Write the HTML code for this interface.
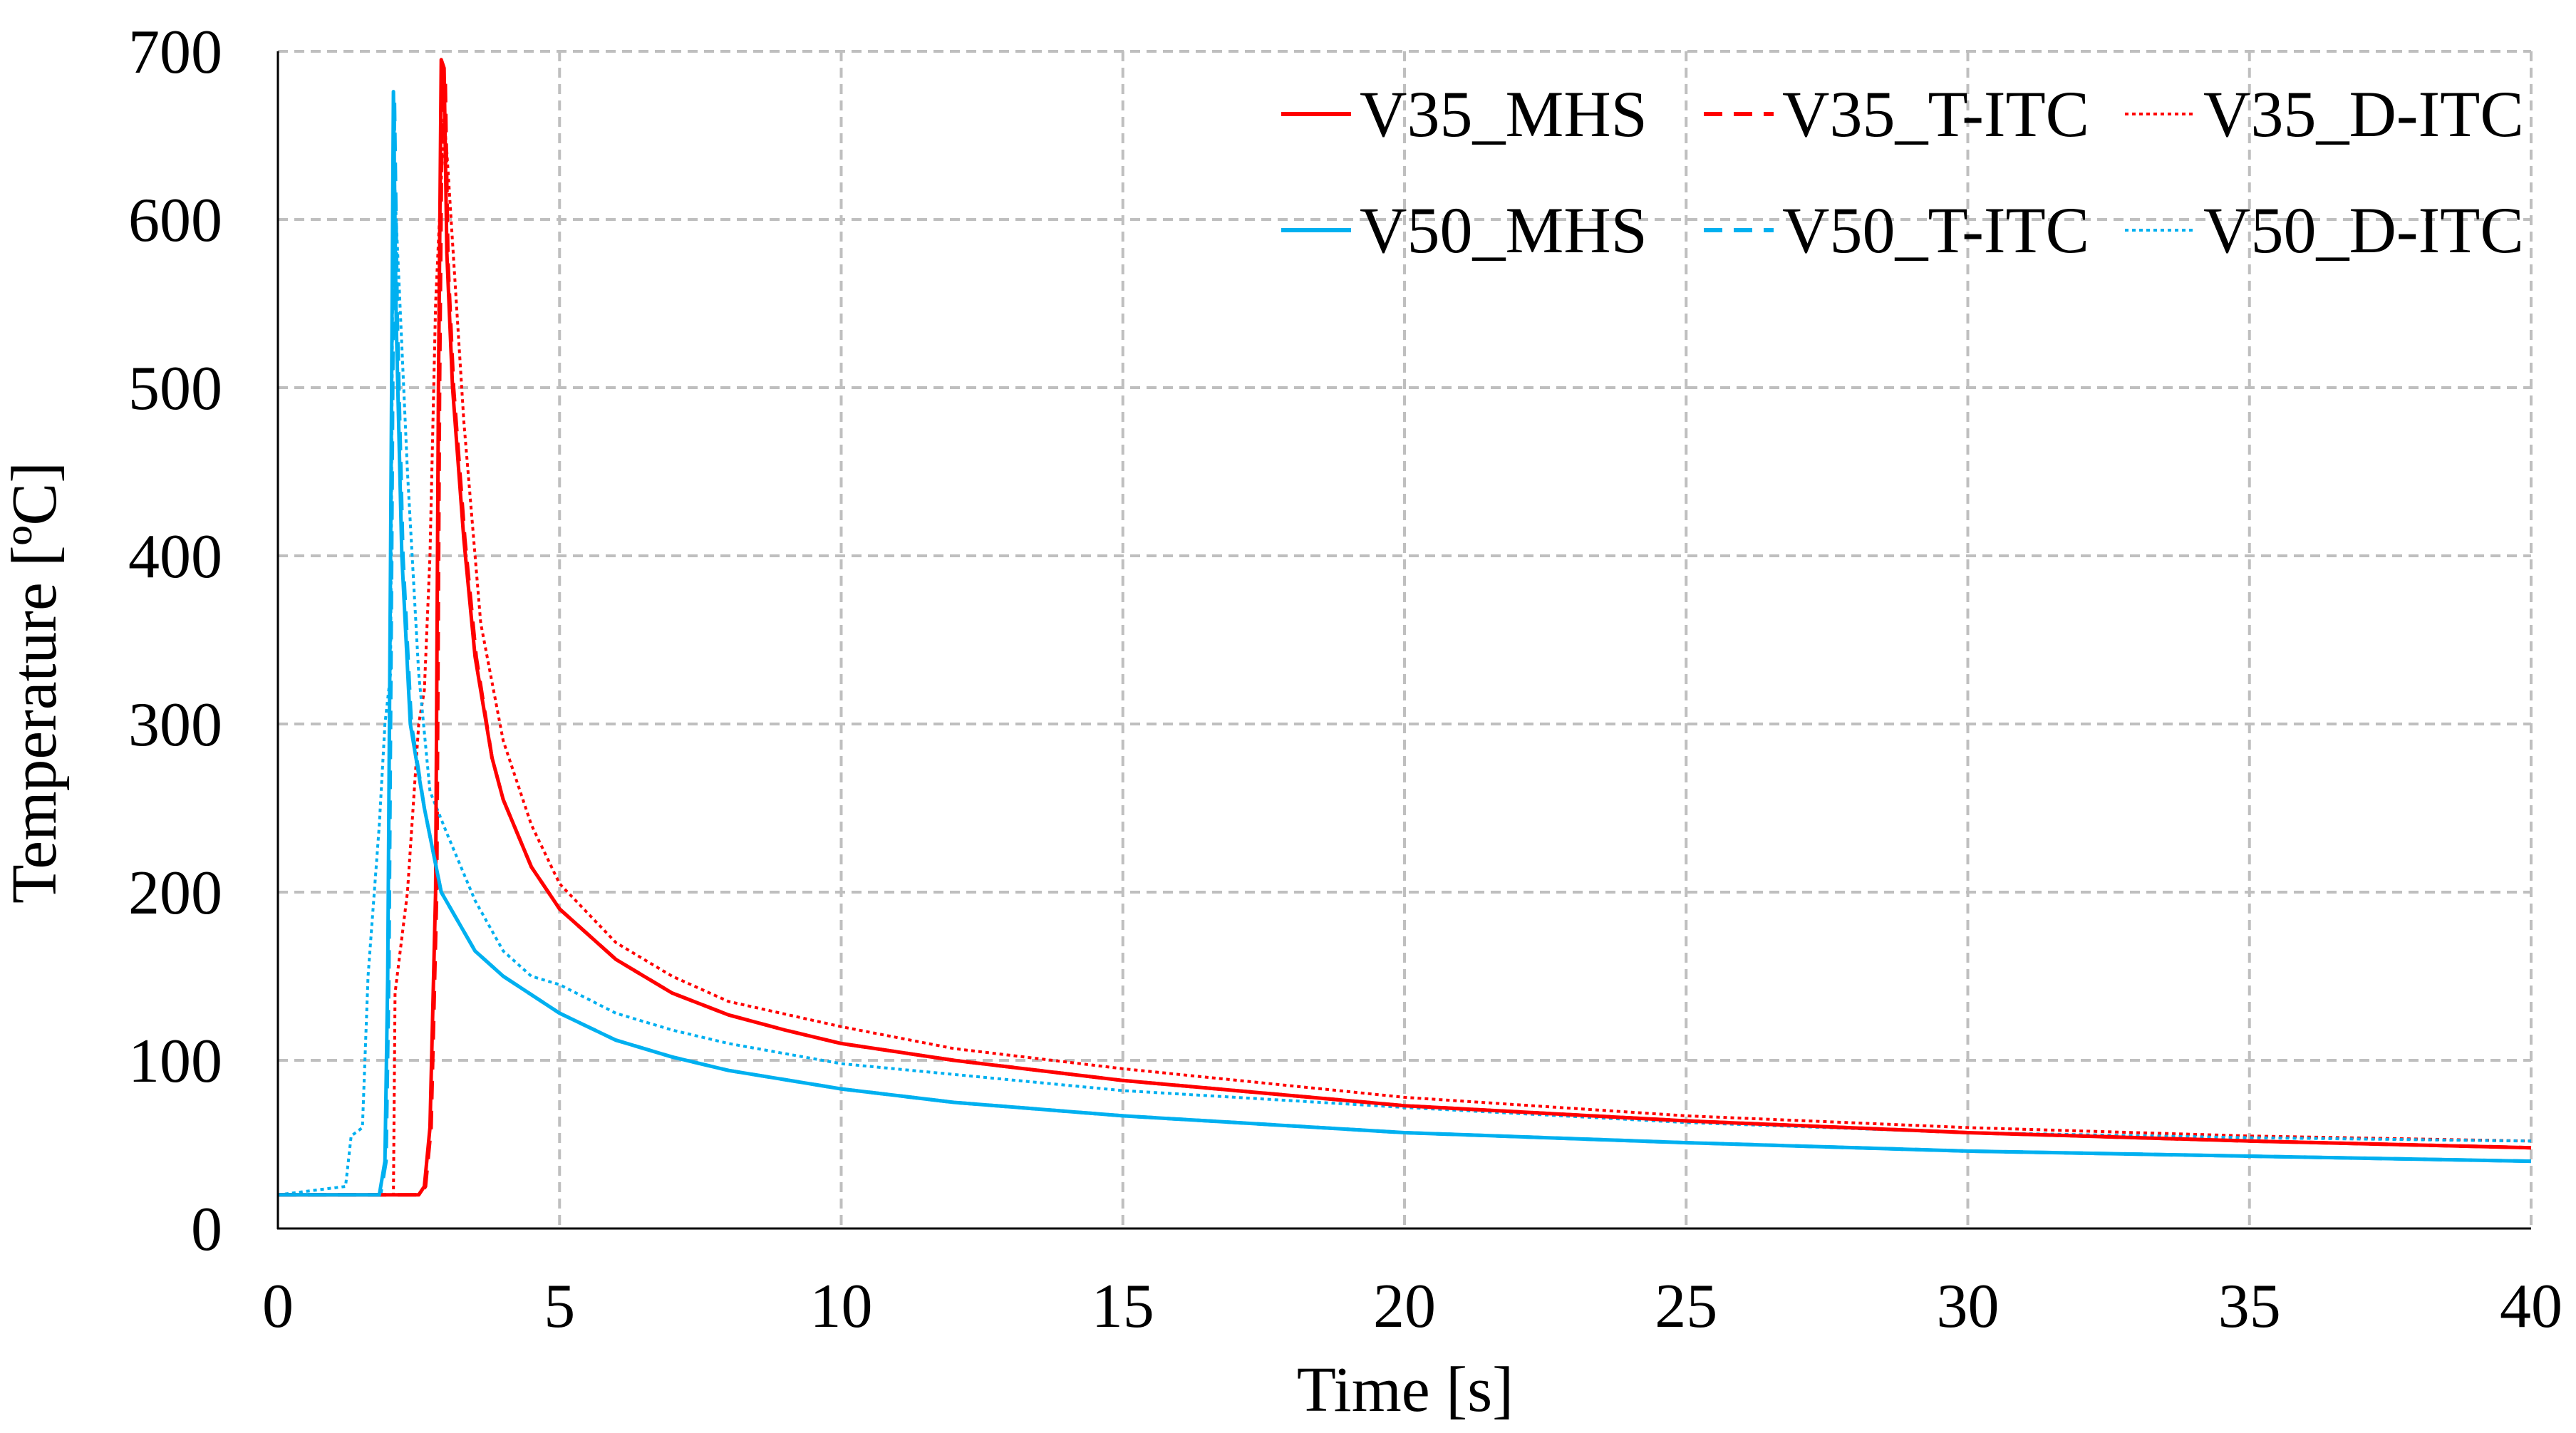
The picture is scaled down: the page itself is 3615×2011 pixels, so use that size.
<!DOCTYPE html>
<html><head><meta charset="utf-8"><style>
html,body{margin:0;padding:0;background:#fff}
svg{display:block}
text{font-family:"Liberation Serif",serif;fill:#000}
</style></head><body>
<svg id="chart" width="3615" height="2011" viewBox="0 0 3615 2011" xmlns="http://www.w3.org/2000/svg">
<g id="grid"></g>
<g id="series"></g>
<g id="axes"></g>
<text x="1972" y="1980" font-size="90" text-anchor="middle">Time [s]</text>
<text transform="translate(78,958) rotate(-90)" font-size="90" text-anchor="middle" textLength="620" lengthAdjust="spacingAndGlyphs">Temperature [ºC]</text>
<g id="legend"></g>
</svg>
<script>
const xTicks=[0,5,10,15,20,25,30,35,40];
const yTicks=[0,100,200,300,400,500,600,700];
const v35MhsT=[0,2.5,2.6,2.7,2.8,2.85,2.9,2.95,3.0,3.1,3.3,3.5,3.8,4,4.5,5,6,7,8,9,10,12,15,20,25,30,35,40];
const v35MhsY=[20,20,25,60,200,500,695,690,580,500,410,340,280,255,215,190,160,140,127,118,110,100,88,73,64,57,52,48];
const v35TitcT=[0,2.52,2.62,2.72,2.82,2.87,2.92,2.97,3.02,3.12,3.32,3.52,3.8,4,4.5,5,6,7,8,9,10,12,15,20,25,30,35,40];
const v35TitcY=[20,20,25,60,200,500,690,685,575,500,410,340,280,255,215,190,160,140,127,118,110,100,88,73,64,57,52,48];
const v35DitcT=[0,2.05,2.08,2.3,2.5,2.6,2.7,2.8,2.95,3.0,3.3,3.6,4,4.5,5,6,7,8,10,12,15,20,25,30,35,40];
const v35DitcY=[20,20,140,200,300,320,400,550,660,640,480,360,290,240,205,170,150,135,120,107,95,78,67,60,55,52];
const v50MhsT=[0,1.8,1.9,1.95,2.0,2.05,2.1,2.2,2.35,2.6,2.9,3.5,4,5,6,7,8,10,12,15,20,25,30,35,40];
const v50MhsY=[20,20,40,150,400,676,540,400,300,250,200,165,150,128,112,102,94,83,75,67,57,51,46,43,40];
const v50TitcT=[0,1.82,1.92,1.97,2.02,2.07,2.12,2.22,2.37,2.6,2.9,3.5,4,5,6,7,8,10,12,15,20,25,30,35,40];
const v50TitcY=[20,20,40,150,400,670,540,400,300,250,200,165,150,128,112,102,94,83,75,67,57,51,46,43,40];
const v50DitcT=[0,1.2,1.3,1.5,1.6,1.8,1.9,2.0,2.05,2.1,2.3,2.5,2.7,3,3.5,4,4.5,5,6,7,8,10,15,20,25,30,35,40];
const v50DitcY=[20,25,55,60,150,240,300,330,640,600,450,330,260,235,195,165,150,145,128,118,110,98,82,72,63,57,54,52];
const seriesNames=["V35_MHS","V35_T-ITC","V35_D-ITC","V50_MHS","V50_T-ITC","V50_D-ITC"];

const NS="http://www.w3.org/2000/svg";
const L=390,R=3552,T=72,B=1724;
const xs=v=>L+(v/40)*(R-L);
const ys=v=>B-(v/700)*(B-T);
function mk(tag,parent,attrs){const e=document.createElementNS(NS,tag);for(const k in attrs)e.setAttribute(k,attrs[k]);parent.appendChild(e);return e;}
const grid=document.getElementById('grid'),axes=document.getElementById('axes'),sg=document.getElementById('series'),lg=document.getElementById('legend');
yTicks.forEach(v=>{
  if(v>0){const g=mk('line',grid,{x1:L,x2:R,y1:ys(v),y2:ys(v),stroke:'#bfbfbf','stroke-width':4,'stroke-dasharray':'14 9'});
  
  }
  const t=mk('text',axes,{x:312,y:ys(v)+30,'font-size':88,'text-anchor':'end'});t.textContent=v;
  
  
});
xTicks.forEach(v=>{
  if(v>0){const g=mk('line',grid,{x1:xs(v),x2:xs(v),y1:T,y2:B,stroke:'#bfbfbf','stroke-width':4,'stroke-dasharray':'14 9'});
  
  }
  const t=mk('text',axes,{x:xs(v),y:1862,'font-size':88,'text-anchor':'middle'});t.textContent=v;
  
  
});
const ax1=mk('line',axes,{x1:L,x2:L,y1:T,y2:B+1,stroke:'#000','stroke-width':3});


const ax2=mk('line',axes,{x1:L-1,x2:R,y1:B,y2:B,stroke:'#000','stroke-width':3});



const RED='#ff0000',BLUE='#00b0f0';
const defs=[
 [v35TitcT,v35TitcY,RED,'26 16','v35-t-itc-line'],
 [v50TitcT,v50TitcY,BLUE,'26 16','v50-t-itc-line'],
 [v35DitcT,v35DitcY,RED,'5 5','v35-d-itc-line'],
 [v50DitcT,v50DitcY,BLUE,'5 5','v50-d-itc-line'],
 [v35MhsT,v35MhsY,RED,'','v35-mhs-line'],
 [v50MhsT,v50MhsY,BLUE,'','v50-mhs-line']
];
defs.forEach(d=>{
  const pts=d[0].map((t,i)=>xs(t).toFixed(1)+','+ys(d[1][i]).toFixed(1)).join(' ');
  const p=mk('polyline',sg,{points:pts,fill:'none',stroke:d[2],'stroke-width':d[3]==='5 5'?4:5,'stroke-linejoin':'round'});
  if(d[3])p.setAttribute('stroke-dasharray',d[3]);
  
  
});
const legX=[1798,2391,2982],legY=[160,323];
const legDash=['','26 16','5 5'];
seriesNames.forEach((n,i)=>{
  const r=Math.floor(i/3),c=i%3,col=r?BLUE:RED;
  const ln=mk('line',lg,{x1:legX[c],x2:legX[c]+98,y1:legY[r],y2:legY[r],stroke:col,'stroke-width':c===2?4:6});
  if(legDash[c])ln.setAttribute('stroke-dasharray',legDash[c]);
  
  
  const t=mk('text',lg,{x:legX[c]+110,y:legY[r]+31,'font-size':92});
  t.textContent=n;
  
  
});
</script>
</body></html>
